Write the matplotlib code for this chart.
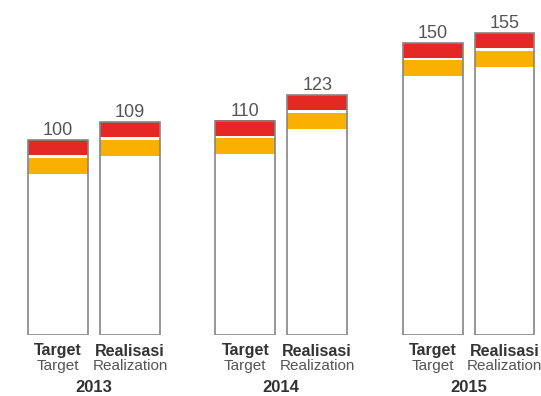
import matplotlib
matplotlib.use("Agg")
from matplotlib import pyplot as plt
from matplotlib.patches import Rectangle

plt.rcParams['font.family'] = ['Liberation Sans', 'DejaVu Sans']

years = ['2013', '2014', '2015']
target = [100, 110, 150]
realisasi = [109, 123, 155]
label_id = ['Target', 'Realisasi']
label_en = ['Target', 'Realization']

red = '#E52823'
yellow = '#F9B000'
edge = '#858585'

# band sizes at the top of each bar, in value units
red_h = 7.7
gap_h = 1.5
yel_h = 8.2

fig = plt.figure(figsize=(5.41, 3.96), dpi=100)
ax = fig.add_axes([0, 61 / 396, 1, 335 / 396])
ax.set_xlim(-0.502, 2.387)
ax.set_ylim(0, 335 / 1.95)
ax.axis('off')

w = 0.32
off = 0.192

for i, yr in enumerate(years):
    for j, v in enumerate([target[i], realisasi[i]]):
        x = i + (j * 2 - 1) * off
        ax.bar(x, v, width=w, color='white', zorder=1)
        ax.bar(x, red_h, bottom=v - red_h, width=w, color=red, zorder=2)
        ax.bar(x, yel_h, bottom=v - red_h - gap_h - yel_h, width=w,
               color=yellow, zorder=2)
        ax.add_patch(Rectangle((x - w / 2, 0), w, v, fill=False,
                               edgecolor=edge, linewidth=1.2, zorder=3))
        ax.annotate(str(v), (x, v), xytext=(0, 5), textcoords='offset pixels',
                    ha='center', va='baseline', fontsize=13, color='#555555')
        ax.annotate(label_id[j], (x, 0), xytext=(0, -16),
                    textcoords='offset pixels', ha='center', va='center',
                    fontsize=11.5, fontweight='bold', color='#333333')
        ax.annotate(label_en[j], (x, 0), xytext=(0, -31),
                    textcoords='offset pixels', ha='center', va='center',
                    fontsize=11, color='#555555')
    ax.annotate(yr, (i, 0), xytext=(0, -53), textcoords='offset pixels',
                ha='center', va='center', fontsize=12, fontweight='bold',
                color='#333333')

fig.savefig('out.png', dpi=100)
